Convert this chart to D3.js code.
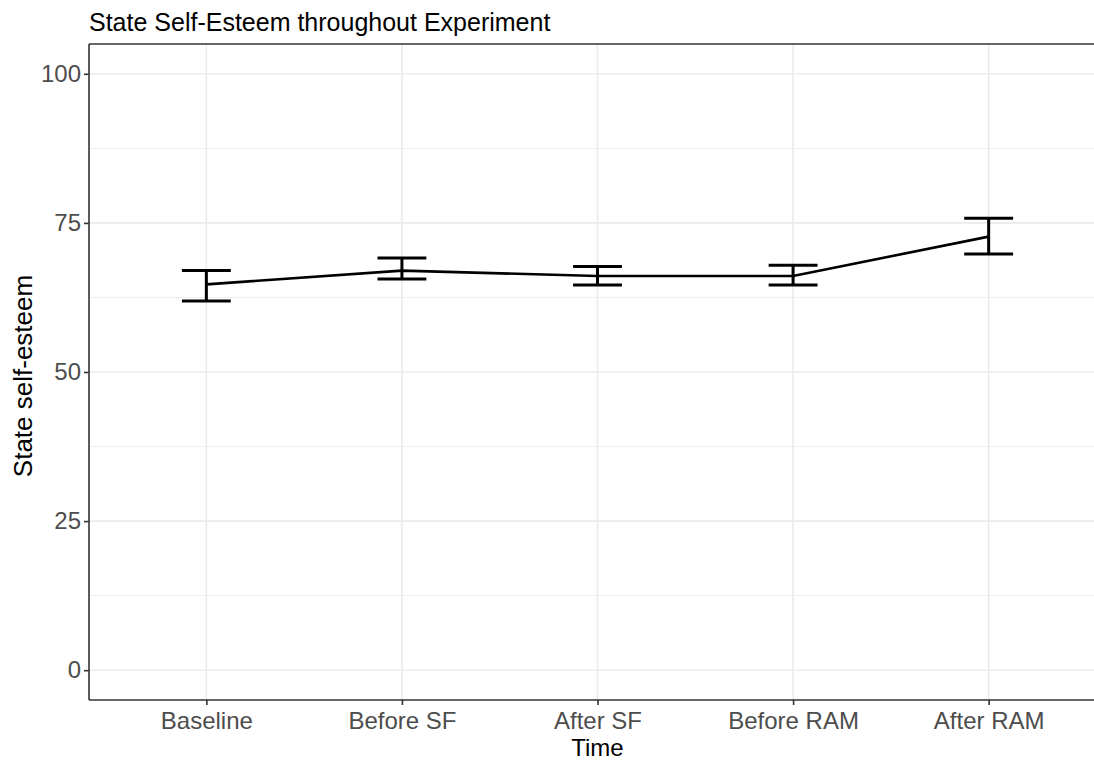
<!DOCTYPE html>
<html>
<head>
<meta charset="utf-8">
<script src="https://cdn.jsdelivr.net/npm/d3@7"></script>
<style>
body { margin: 0; background: #fff; }
text { font-family: "Liberation Sans", Arial, sans-serif; }
</style>
</head>
<body>
<div id="vis"></div>
<script>
var times = ["Baseline", "Before SF", "After SF", "Before RAM", "After RAM"];
var means = [64.7, 67.0, 66.1, 66.1, 72.7];
var lower = [61.9, 65.6, 64.6, 64.6, 69.8];
var upper = [67.0, 69.1, 67.7, 67.9, 75.8];
var yTicks = [0, 25, 50, 75, 100];
var yMinor = [12.5, 37.5, 62.5, 87.5];

var W = 1094, H = 763;
var pL = 89, pT = 44, pR = 1106, pB = 700;

var svg = d3.select("#vis").append("svg")
    .attr("width", W).attr("height", H);

var x = d3.scalePoint().domain(times).range([pL, pR]).padding(0.6);
var y = d3.scaleLinear().domain([-5, 105]).range([pB, pT]);
var step = x.step();

// grid
svg.selectAll(".minor").data(yMinor).enter().append("line")
    .attr("x1", pL).attr("x2", pR)
    .attr("y1", function(d){ return y(d); }).attr("y2", function(d){ return y(d); })
    .attr("stroke", "#ebebeb").attr("stroke-width", 0.8);
svg.selectAll(".major").data(yTicks).enter().append("line")
    .attr("x1", pL).attr("x2", pR)
    .attr("y1", function(d){ return y(d); }).attr("y2", function(d){ return y(d); })
    .attr("stroke", "#ebebeb").attr("stroke-width", 1.6);
svg.selectAll(".vgrid").data(times).enter().append("line")
    .attr("y1", pT).attr("y2", pB)
    .attr("x1", function(d){ return x(d); }).attr("x2", function(d){ return x(d); })
    .attr("stroke", "#ebebeb").attr("stroke-width", 1.6);

// border top
svg.append("line").attr("x1", pL).attr("x2", pR).attr("y1", pT).attr("y2", pT)
    .attr("stroke", "#333").attr("stroke-width", 1.6);

// axes
var yAxis = svg.append("g").attr("transform", "translate(" + pL + ",0)")
    .call(d3.axisLeft(y).tickValues(yTicks).tickSize(5).tickPadding(3));
var xAxis = svg.append("g").attr("transform", "translate(0," + pB + ")")
    .call(d3.axisBottom(x).tickSize(5).tickPadding(3));
[yAxis, xAxis].forEach(function(a){
    a.select(".domain").attr("stroke", "#333").attr("stroke-width", 1.6);
    a.selectAll(".tick line").attr("stroke", "#333").attr("stroke-width", 1.6);
    a.selectAll(".tick text").attr("fill", "#4d4d4d").style("font-size", "24px")
        .style("font-family", "Liberation Sans, Arial, sans-serif");
});
yAxis.select(".domain").attr("d", "M0," + pT + "V" + pB);
xAxis.select(".domain").attr("d", "M" + pL + ",0H" + pR);
xAxis.selectAll(".tick text").attr("dy", null).attr("y", 29);

// line
var line = d3.line().x(function(d, i){ return x(times[i]); }).y(function(d){ return y(d); });
svg.append("path").datum(means).attr("d", line)
    .attr("fill", "none").attr("stroke", "#000").attr("stroke-width", 2.6);

// error bars
var hw = step * 0.125;
var eb = svg.selectAll(".eb").data(times).enter().append("g");
eb.append("line")
    .attr("x1", function(d){ return x(d); }).attr("x2", function(d){ return x(d); })
    .attr("y1", function(d, i){ return y(lower[i]); }).attr("y2", function(d, i){ return y(upper[i]); });
eb.append("line")
    .attr("x1", function(d){ return x(d) - hw; }).attr("x2", function(d){ return x(d) + hw; })
    .attr("y1", function(d, i){ return y(lower[i]); }).attr("y2", function(d, i){ return y(lower[i]); });
eb.append("line")
    .attr("x1", function(d){ return x(d) - hw; }).attr("x2", function(d){ return x(d) + hw; })
    .attr("y1", function(d, i){ return y(upper[i]); }).attr("y2", function(d, i){ return y(upper[i]); });
eb.selectAll("line").attr("stroke", "#000").attr("stroke-width", 3);

// titles
svg.append("text").attr("x", pL).attr("y", 31)
    .style("font-size", "25px").attr("fill", "#000")
    .text("State Self-Esteem throughout Experiment");
svg.append("text").attr("x", x("After SF")).attr("y", 756)
    .attr("text-anchor", "middle").style("font-size", "24px").attr("fill", "#000")
    .text("Time");
svg.append("text").attr("transform", "translate(32,376) rotate(-90)")
    .attr("text-anchor", "middle").style("font-size", "26px").attr("fill", "#000")
    .text("State self-esteem");
</script>
</body>
</html>
